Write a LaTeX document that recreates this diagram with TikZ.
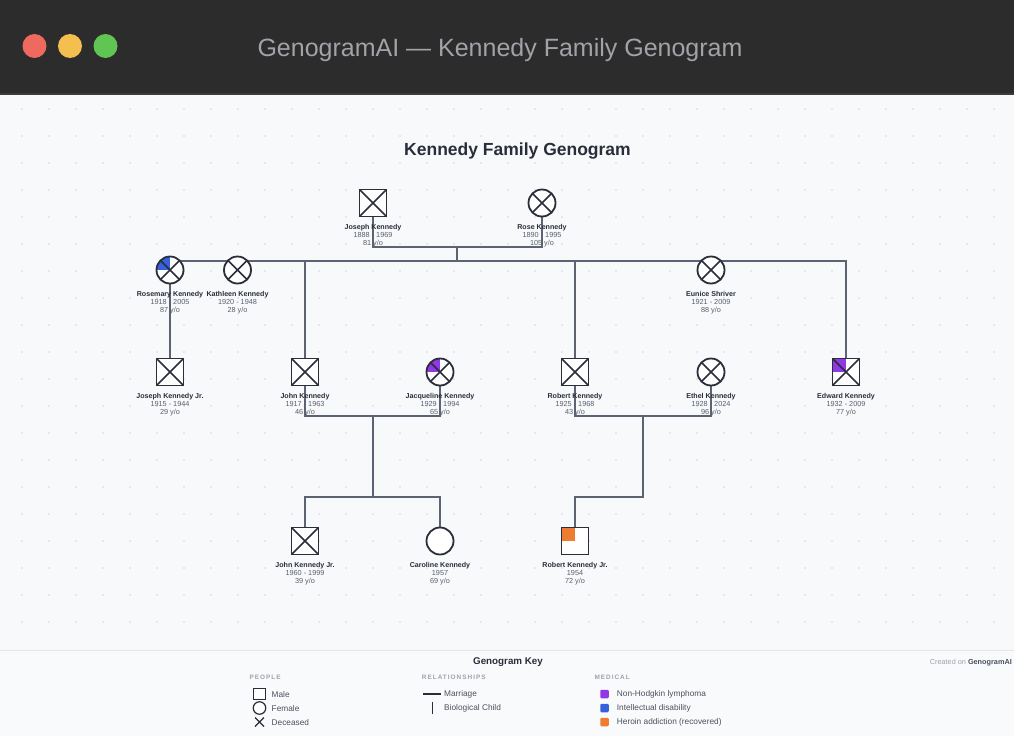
\documentclass[tikz,border=0pt]{standalone}
\usepackage{fontspec}
\setmainfont{Liberation Sans}
\newfontfamily\capsf[LetterSpace=16]{Liberation Sans}
\pgfdeclarelayer{bg}
\pgfdeclarelayer{lines}
\pgfsetlayers{bg,lines,main}
\definecolor{ink}{HTML}{2A2D3A}
\definecolor{linec}{HTML}{5C6373}
\definecolor{datec}{HTML}{5A5F6E}
\definecolor{canvas}{HTML}{F8F9FB}
\definecolor{legbg}{HTML}{F9FAFB}
\definecolor{legline}{HTML}{E4E6EA}
\definecolor{barbg}{HTML}{2C2C2C}
\definecolor{barline}{HTML}{3C3C3C}
\definecolor{titlec}{HTML}{A2A2A8}
\definecolor{dotc}{HTML}{D2D5DB}
\definecolor{purpleD}{HTML}{9038E6}
\definecolor{blueD}{HTML}{3560DE}
\definecolor{orangeD}{HTML}{EE7C32}
\definecolor{winred}{HTML}{EE6A5F}
\definecolor{winyel}{HTML}{F5BF4F}
\definecolor{wingrn}{HTML}{61C554}
\definecolor{capc}{HTML}{9CA1AB}
\definecolor{keyc}{HTML}{4B5060}
\newcommand\deadX{\draw[ink,line width=1.5pt] (path picture bounding box.north west) -- (path picture bounding box.south east) (path picture bounding box.north east) -- (path picture bounding box.south west);}
\tikzset{
  pshape/.style={draw=ink, line width=1.8pt, fill=white, inner sep=0pt, minimum size=27pt},
  male/.style={pshape, rectangle},
  female/.style={pshape, circle},
  dead/.style={path picture={\deadX}},
  deadmed/.style={path picture={\fill[#1] (path picture bounding box.north west) rectangle (path picture bounding box.center); \deadX}},
  med/.style={path picture={\fill[#1] (path picture bounding box.north west) rectangle (path picture bounding box.center);}},
  nm/.style={inner sep=0pt, text=ink, font=\bfseries\fontsize{7.1}{8}\selectfont, text height=5pt, text depth=1.4pt},
  dt/.style={inner sep=0pt, text=datec, font=\fontsize{7.3}{8}\selectfont, text height=5pt, text depth=1.4pt},
  conn/.style={draw=linec, line width=1.4pt},
  caph/.style={inner sep=0pt, anchor=west, text=capc, font=\capsf\bfseries\fontsize{6.4}{7}\selectfont},
  keytxt/.style={inner sep=0pt, anchor=west, text=keyc, font=\fontsize{8.3}{9}\selectfont},
  keyicon/.style={draw=ink, line width=1.2pt, inner sep=0pt, fill=white},
  medsq/.style={rounded corners=1.2pt, inner sep=0pt, minimum size=8.5pt},
}
\newcommand\pers[7]{%
  \node[#2] (#1) at (#3,#4) {};
  \node[nm] (#1-n) at (#3,#4+24.6) {#5};
  \node[dt] (#1-d) at (#3,#4+32.8) {#6};
  \node[dt] (#1-a) at (#3,#4+41) {#7};
}
\begin{document}
\begin{tikzpicture}[x=1pt,y=-1pt]
\useasboundingbox (0,0) rectangle (1014,736);
\begin{pgfonlayer}{bg}
  \fill[canvas] (0,0) rectangle (1014,736);
  \fill[barbg] (0,0) rectangle (1014,92.5);
  \fill[barline] (0,92.5) rectangle (1014,95);
  \foreach \i in {0,...,36} {\foreach \j in {0,...,19} {\fill[dotc] (22+27*\i,109+27*\j) circle[radius=0.9pt];}}
  \fill[legbg] (0,650) rectangle (1014,736);
  \draw[legline, line width=0.8pt] (0,650) -- (1014,650);
\end{pgfonlayer}
% window chrome
\fill[winred] (34.5,46) circle[radius=12pt];
\fill[winyel] (70,46) circle[radius=12pt];
\fill[wingrn] (105.5,46) circle[radius=12pt];
\node[text=titlec, font=\fontsize{25}{30}\selectfont, inner sep=0pt] (wtitle) at (500,50.5) {GenogramAI — Kennedy Family Genogram};
% title
\node[text=ink, font=\bfseries\fontsize{17.5}{20}\selectfont, inner sep=0pt] (title) at (517.5,151) {Kennedy Family Genogram};
% people
\pers{jk}{male,dead}{373}{203}{Joseph Kennedy}{1888 - 1969}{81 y/o}
\pers{rk}{female,dead}{542}{203}{Rose Kennedy}{1890 - 1995}{105 y/o}
\pers{rmk}{female,deadmed=blueD}{170}{270}{Rosemary Kennedy}{1918 - 2005}{87 y/o}
\pers{kk}{female,dead}{237.5}{270}{Kathleen Kennedy}{1920 - 1948}{28 y/o}
\pers{es}{female,dead}{711}{270}{Eunice Shriver}{1921 - 2009}{88 y/o}
\pers{jkjr}{male,dead}{170}{372}{Joseph Kennedy Jr.}{1915 - 1944}{29 y/o}
\pers{jfk}{male,dead}{305}{372}{John Kennedy}{1917 - 1963}{46 y/o}
\pers{jbk}{female,deadmed=purpleD}{440}{372}{Jacqueline Kennedy}{1929 - 1994}{65 y/o}
\pers{rfk}{male,dead}{575}{372}{Robert Kennedy}{1925 - 1968}{43 y/o}
\pers{eth}{female,dead}{711}{372}{Ethel Kennedy}{1928 - 2024}{96 y/o}
\pers{ek}{male,deadmed=purpleD}{846}{372}{Edward Kennedy}{1932 - 2009}{77 y/o}
\pers{jfkjr}{male,dead}{305}{541}{John Kennedy Jr.}{1960 - 1999}{39 y/o}
\pers{ck}{female}{440}{541}{Caroline Kennedy}{1957}{69 y/o}
\pers{rfkjr}{male,med=orangeD}{575}{541}{Robert Kennedy Jr.}{1954}{72 y/o}
% connectors
\begin{pgfonlayer}{lines}
  \coordinate (m1) at (457,247);
  \coordinate (s1) at (457,261);
  \coordinate (sL) at (170,261);
  \draw[conn] (jk.south) |- (m1) -| (rk.south);
  \draw[conn] (m1) -- (s1);
  \draw[conn] (sL) -- (jkjr.north);
  \draw[conn] (sL) -| (ek.north);
  \draw[conn] (jfk.north) -- (jfk.north |- s1);
  \draw[conn] (rfk.north) -- (rfk.north |- s1);
  \coordinate (m2) at (373,416);
  \coordinate (c2) at (373,497);
  \draw[conn] (jfk.south) |- (m2) -| (jbk.south);
  \draw[conn] (m2) -- (c2);
  \draw[conn] (jfkjr.north) |- (c2) -| (ck.north);
  \coordinate (m3) at (643,416);
  \coordinate (c3) at (643,497);
  \draw[conn] (rfk.south) |- (m3) -| (eth.south);
  \draw[conn] (m3) -- (c3) -| (rfkjr.north);
\end{pgfonlayer}
% legend
\node[text=ink, font=\bfseries\fontsize{9.8}{11}\selectfont, inner sep=0pt] (keyt) at (508,662) {Genogram Key};
\node[anchor=east, inner sep=0pt, text=capc, font=\fontsize{7.3}{8}\selectfont] (cred) at (1012,662.5) {Created on \textcolor{keyc}{\bfseries GenogramAI}};
\node[caph] (hpeople) at (249.3,677.5) {PEOPLE};
\node[caph] (hrel) at (421.7,677.5) {RELATIONSHIPS};
\node[caph] (hmed) at (594.3,677.5) {MEDICAL};
\node[keyicon, rectangle, minimum size=11.5pt] (kmale) at (259.5,694) {};
\node[keyicon, circle, minimum size=12.5pt] (kfem) at (259.5,708) {};
\draw[ink, line width=1.3pt] (255,717.5) -- (264,726.5) (264,717.5) -- (255,726.5);
\node[keytxt] (tmale) at (271.5,694.5) {Male};
\node[keytxt] (tfem) at (271.5,708.5) {Female};
\node[keytxt] (tdec) at (271.5,722.5) {Deceased};
\draw[ink, line width=1.3pt] (423.3,694) -- (440.7,694);
\draw[ink, line width=1.6pt] (432.3,702) -- (432.3,714);
\node[keytxt] (tmar) at (444,694.5) {Marriage};
\node[keytxt] (tbio) at (444,708.5) {Biological Child};
\node[medsq, fill=purpleD] (kp) at (604.5,694) {};
\node[medsq, fill=blueD] (kb) at (604.5,708) {};
\node[medsq, fill=orangeD] (ko) at (604.5,722) {};
\node[keytxt] (tp) at (616.7,694.5) {Non-Hodgkin lymphoma};
\node[keytxt] (tb) at (616.7,708.5) {Intellectual disability};
\node[keytxt] (to) at (616.7,722.5) {Heroin addiction (recovered)};
\end{tikzpicture}
\end{document}
